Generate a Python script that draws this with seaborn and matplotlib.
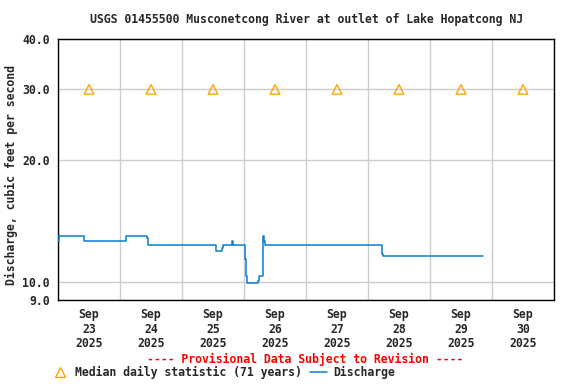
import matplotlib
matplotlib.use("Agg")
import matplotlib.pyplot as plt
import matplotlib.dates as mdates
import matplotlib.ticker as mtick
from matplotlib.lines import Line2D
import pandas as pd
import seaborn as sns

# discharge readings (cfs), step series
discharge_times = [
    "2025-09-23 00:00", "2025-09-23 00:30", "2025-09-23 10:10",
    "2025-09-24 02:25", "2025-09-24 10:20", "2025-09-24 11:00",
    "2025-09-25 13:15", "2025-09-25 15:35", "2025-09-25 15:50",
    "2025-09-25 19:10", "2025-09-25 19:40",
    "2025-09-26 00:25", "2025-09-26 00:45", "2025-09-26 01:00",
    "2025-09-26 05:30", "2025-09-26 05:45", "2025-09-26 07:30",
    "2025-09-26 07:55", "2025-09-26 08:15",
    "2025-09-28 05:30", "2025-09-28 05:55", "2025-09-29 20:25",
]
discharge_values = [
    12.6, 13.0, 12.6,
    13.0, 12.8, 12.3,
    11.9, 12.1, 12.3,
    12.6, 12.3,
    11.4, 10.3, 9.9,
    10.05, 10.3, 13.0,
    12.6, 12.3,
    11.7, 11.55, 11.55,
]

# median daily statistic (71 years)
median_days = ["2025-09-23", "2025-09-24", "2025-09-25", "2025-09-26",
               "2025-09-27", "2025-09-28", "2025-09-29", "2025-09-30"]
median_values = [30.0, 30.0, 30.0, 30.0, 30.0, 30.0, 30.0, 30.0]

y_ticks = [9, 10, 20, 30, 40]

dis = pd.DataFrame({"time": pd.to_datetime(discharge_times), "cfs": discharge_values})
med = pd.DataFrame({"time": pd.to_datetime(median_days) + pd.Timedelta(hours=12),
                    "cfs": median_values})

sns.set_style("white")
plt.rcParams["font.family"] = ["DejaVu Sans Mono"]
plt.rcParams["font.weight"] = "bold"
fs = 8.3

fig = plt.figure(figsize=(5.76, 3.84), dpi=100)
ax = fig.add_axes([58 / 576, 84 / 384, 496 / 576, 261 / 384])

line_color = "#0a7fd0"
tri_color = "#ffa500"

sns.lineplot(data=dis, x="time", y="cfs", ax=ax, color=line_color, lw=1.1,
             drawstyle="steps-post", zorder=3)
sns.scatterplot(data=med, x="time", y="cfs", ax=ax, marker="^", s=48,
                facecolor="none", edgecolor=tri_color, linewidth=1.0, zorder=4)

ax.set_yscale("log")
ax.set_ylim(9, 40)
ax.yaxis.set_major_locator(mtick.FixedLocator(y_ticks))
ax.yaxis.set_major_formatter(mtick.FormatStrFormatter("%.1f"))
ax.yaxis.set_minor_locator(mtick.NullLocator())

# gridlines at midnight, date labels at noon
ax.set_xlim(pd.Timestamp("2025-09-23"), pd.Timestamp("2025-10-01"))
ax.xaxis.set_major_locator(mdates.DayLocator())
ax.xaxis.set_major_formatter(mtick.NullFormatter())
ax.xaxis.set_minor_locator(mdates.HourLocator(byhour=[12]))
ax.xaxis.set_minor_formatter(mdates.DateFormatter("%b\n%d\n%Y"))

ax.grid(True, which="major", color="#cccccc", lw=1.0)
ax.tick_params(axis="both", which="both", length=0, labelsize=fs)
ax.tick_params(axis="x", which="minor", pad=6)
ax.tick_params(axis="y", pad=6)
for lab in ax.get_xticklabels(minor=True) + ax.get_yticklabels():
    lab.set_fontweight("bold")
    lab.set_linespacing(1.15)

for sp in ax.spines.values():
    sp.set_color("black")
    sp.set_linewidth(1.0)

ax.set_xlabel("")
ax.set_ylabel("Discharge, cubic feet per second", fontsize=fs, fontweight="bold")
ax.yaxis.set_label_coords(-0.081, 0.48)

fig.text(0.532, 0.949, "USGS 01455500 Musconetcong River at outlet of Lake Hopatcong NJ",
         ha="center", va="center", fontsize=fs, fontweight="bold")
fig.text(0.530, 0.065, "---- Provisional Data Subject to Revision ----",
         ha="center", va="center", fontsize=fs, fontweight="bold", color="red")

handles = [
    Line2D([], [], ls="none", marker="^", markersize=7, markerfacecolor="none",
           markeredgecolor=tri_color, markeredgewidth=1.0),
    Line2D([], [], color=line_color, lw=1.1),
]
fig.legend(handles, ["Median daily statistic (71 years)", "Discharge"],
           loc="center left", bbox_to_anchor=(51 / 576, 0.029), ncol=2,
           frameon=False, fontsize=fs, handlelength=1.5, handletextpad=0.55,
           columnspacing=0.7, borderpad=0, borderaxespad=0,
           prop={"weight": "bold", "size": fs})

fig.savefig("out.png", dpi=100)
